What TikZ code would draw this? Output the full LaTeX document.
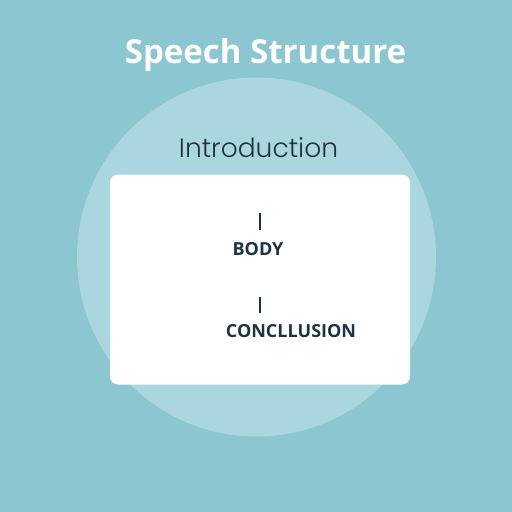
\documentclass[tikz,border=0pt]{standalone}
\usepackage{fontspec}
\setmainfont{Open Sans}
\newfontfamily\introfont{Poppins Light}
\definecolor{bgteal}{HTML}{8CC6D0}
\definecolor{circteal}{HTML}{AAD7DF}
\definecolor{inkdark}{HTML}{1E3340}
\tikzset{
  label/.style={font=\bfseries\fontsize{18}{20}\selectfont,text=inkdark,inner sep=0pt},
  tick/.style={inkdark,line width=1.8pt}
}
\begin{document}
\begin{tikzpicture}[x=1pt,y=-1pt]
        \useasboundingbox[fill=bgteal] (0,0) rectangle (512,512);
        \fill[circteal] (256.5,257) circle (179.5);
        \node[fill=white,rounded corners=8pt,minimum width=300pt,minimum height=210pt] (box) at (260,279.5) {};
        \node[text=white,font=\bfseries\fontsize{33}{36}\selectfont,anchor=base] (title) at (265.5,63) {Speech Structure};
        \node[text=inkdark,font=\introfont\fontsize{26.5}{30}\selectfont,anchor=base] (intro) at (258.5,157.5) {Introduction};
        \node[label] (body) at (258,249.5) {BODY};
        \node[label] (concl) at (291,331.5) {CONCLLUSION};
        \coordinate (tickA) at (260,213);
        \coordinate (tickB) at (260,297);
        \draw[tick] (tickA) -- ++(0,17);
        \draw[tick] (tickB) -- ++(0,16);
        %\draw[tick] (intro) -- (body);
    \end{tikzpicture}
\end{document}
